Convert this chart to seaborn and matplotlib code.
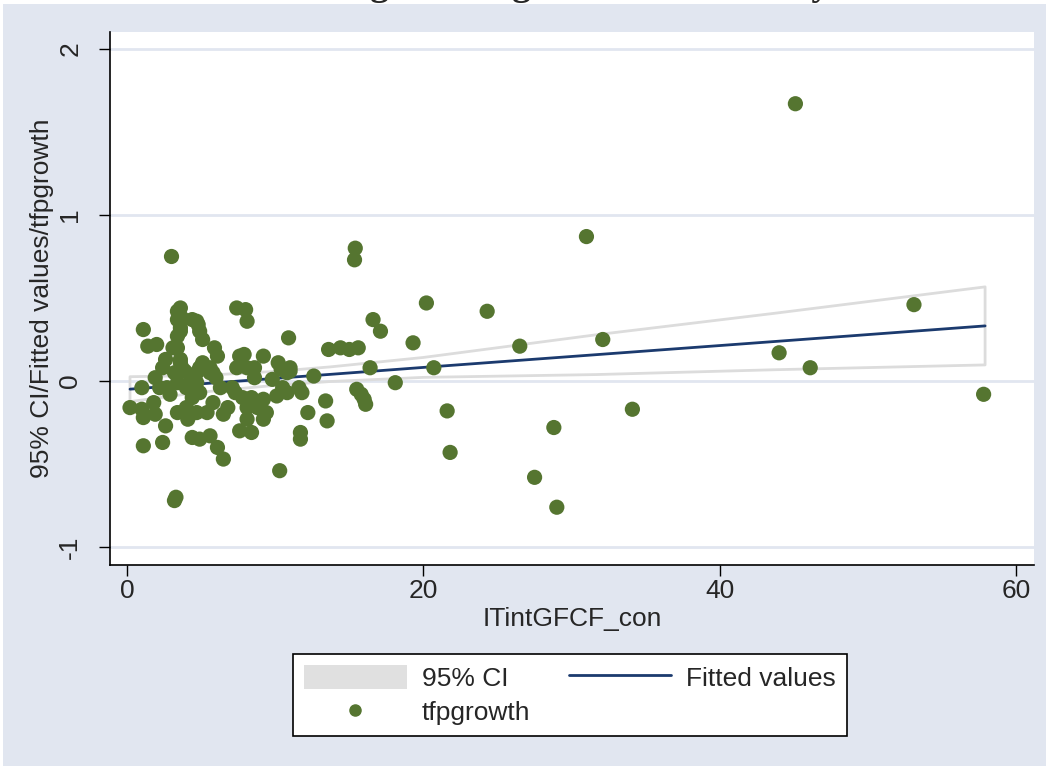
import matplotlib
matplotlib.use('Agg')
import matplotlib.pyplot as plt
import seaborn as sns
import pandas as pd
from matplotlib.patches import Patch, Rectangle
from matplotlib.lines import Line2D

# scatter points (ITintGFCF_con, tfpgrowth)
it_int = [45.1, 31.0, 15.4, 15.35, 3.0, 20.2, 24.3, 53.1, 16.6, 17.1,
          32.1, 19.3, 26.5, 44.0, 46.1, 20.7, 16.4, 18.1, 15.5, 15.8,
          16.0, 16.1, 21.6, 34.1, 57.8, 28.8, 21.8, 27.5, 29.0, 13.6,
          14.4, 15.0, 15.6, 13.4, 13.5, 12.2, 11.7, 11.7, 12.6, 10.9,
          10.3, 3.6, 3.4, 4.4, 4.7, 3.4, 3.6, 1.1, 4.9, 5.1,
          3.4, 1.4, 2.0, 3.1, 3.4, 5.9, 6.1, 7.4, 8.0, 8.1,
          2.6, 2.4, 3.6, 3.7, 5.1, 4.9, 5.6, 5.8, 7.6, 7.9,
          7.4, 8.1, 8.6, 8.6, 9.2, 10.2, 11.0, 10.8, 9.8, 1.0,
          2.2, 2.7, 3.4, 4.0, 4.7, 4.9, 6.3, 7.1, 7.3, 10.5,
          10.8, 11.6, 11.8, 0.2, 1.0, 1.1, 1.8, 1.9, 2.6, 3.4,
          4.0, 4.1, 4.7, 5.4, 5.8, 6.5, 6.8, 7.8, 8.4, 8.1,
          8.8, 9.2, 9.4, 8.1, 9.2, 7.6, 8.4, 1.1, 2.4, 4.4,
          4.9, 5.6, 6.1, 6.5, 3.2, 3.3, 3.7, 4.8, 3.6, 3.6,
          3.2, 5.6, 4.7, 10.4, 11.0, 4.3, 3.9, 2.9, 4.4, 6.0,
          10.1, 1.9]
tfp_growth = [1.67, 0.87, 0.80, 0.73, 0.75, 0.47, 0.42, 0.46, 0.37, 0.30,
              0.25, 0.23, 0.21, 0.17, 0.08, 0.08, 0.08, -0.01, -0.05, -0.08,
              -0.11, -0.14, -0.18, -0.17, -0.08, -0.28, -0.43, -0.58, -0.76, 0.19,
              0.20, 0.19, 0.20, -0.12, -0.24, -0.19, -0.31, -0.35, 0.03, 0.26,
              -0.54, 0.44, 0.42, 0.37, 0.36, 0.37, 0.32, 0.31, 0.30, 0.25,
              0.27, 0.21, 0.22, 0.20, 0.20, 0.20, 0.15, 0.44, 0.43, 0.36,
              0.13, 0.08, 0.13, 0.08, 0.11, 0.08, 0.08, 0.05, 0.15, 0.16,
              0.08, 0.08, 0.08, 0.02, 0.15, 0.11, 0.08, 0.05, 0.01, -0.04,
              -0.04, -0.04, -0.01, -0.04, -0.01, -0.07, -0.04, -0.04, -0.07, -0.04,
              -0.07, -0.04, -0.07, -0.16, -0.17, -0.22, -0.13, -0.20, -0.27, -0.19,
              -0.16, -0.23, -0.19, -0.19, -0.13, -0.20, -0.16, -0.10, -0.10, -0.16,
              -0.16, -0.11, -0.19, -0.23, -0.23, -0.30, -0.31, -0.39, -0.37, -0.34,
              -0.35, -0.33, -0.40, -0.47, -0.72, -0.70, 0.38, 0.34, 0.30, 0.11,
              0.05, 0.05, 0.05, 0.07, 0.06, 0.02, 0.06, -0.08, -0.10, 0.02,
              -0.09, 0.02]

# fitted line and 95% CI band
fit_x = [0.2, 5, 10, 13.7, 20, 31.7, 43.7, 57.9]
fit_y = [-0.049, -0.017, 0.016, 0.040, 0.082, 0.159, 0.238, 0.332]
ci_low = [-0.124, -0.067, -0.026, -0.003, 0.022, 0.039, 0.068, 0.097]
ci_high = [0.026, 0.033, 0.058, 0.085, 0.142, 0.279, 0.408, 0.567]

x_ticks = [0, 20, 40, 60]
y_ticks = [-1, 0, 1, 2]

W, H = 1051, 770
bg = '#E1E6F0'
green = '#557530'
navy = '#1B3A6E'

sns.set_theme(style='white')
plt.rcParams['font.family'] = ['Liberation Sans', 'DejaVu Sans']

fig = plt.figure(figsize=(W / 100, H / 100), dpi=100)
fig.patch.set_facecolor('white')
fig.patches.append(Rectangle((3 / W, 4 / H), 1043 / W, 762 / H, transform=fig.transFigure,
                             facecolor=bg, edgecolor='none', zorder=-10))

ax = fig.add_axes([110 / W, 1 - 565 / H, 924 / W, 533 / H])
ax.set_facecolor('white')

# CI band (outline only, as in the reference)
ax.fill_between(fit_x, ci_low, ci_high, facecolor='none', edgecolor='#DCDCDC', linewidth=2, zorder=2)
sns.lineplot(x=fit_x, y=fit_y, color=navy, lw=2, ax=ax, zorder=3)

df = pd.DataFrame({'ITintGFCF_con': it_int, 'tfpgrowth': tfp_growth})
sns.scatterplot(data=df, x='ITintGFCF_con', y='tfpgrowth', color=green, s=120,
                edgecolor='none', linewidth=0, ax=ax, zorder=4)

ax.set_xlim(-1.15, 61.2)
ax.set_ylim(-1.108, 2.102)
ax.set_xticks(x_ticks)
ax.set_yticks(y_ticks)
ax.set_yticklabels([str(v) for v in y_ticks], rotation=90, va='center')
ax.yaxis.grid(True, color=bg, lw=2)
ax.xaxis.grid(False)
ax.set_axisbelow(True)

for s in ['top', 'right']:
    ax.spines[s].set_visible(False)
for s in ['left', 'bottom']:
    ax.spines[s].set_color('black')
    ax.spines[s].set_linewidth(1.2)

ax.tick_params(axis='x', bottom=True, direction='out', length=8, width=1, color='black',
               labelsize=19, pad=2)
ax.tick_params(axis='y', left=True, direction='out', length=8, width=1, color='black',
               labelsize=19, pad=12)

ax.set_xlabel('ITintGFCF_con', fontsize=19, labelpad=3)
ax.set_ylabel('95% CI/Fitted values/tfpgrowth', fontsize=19, labelpad=3)

# title is cut off at the top edge in the reference; only descenders show
fig.text(292 / W, 1 + 5 / H, 'TFP growth against ICT intensity', ha='left', va='baseline',
         fontsize=27, fontweight='bold', family=['Liberation Serif', 'DejaVu Serif'])

handles = [
    Patch(facecolor='#E0E0E0', edgecolor='none', label='95% CI'),
    Line2D([], [], marker='o', ls='none', color=green, markersize=8, label='tfpgrowth'),
    Line2D([], [], color=navy, lw=2, label='Fitted values'),
]
leg = fig.legend(handles=handles, ncol=2, loc='center', bbox_to_anchor=(570 / W, 1 - 695 / H),
                 frameon=True, fancybox=False, edgecolor='black', framealpha=1, facecolor='white',
                 fontsize=19, handlelength=3.9, handleheight=1.05, handletextpad=0.57,
                 columnspacing=1.45, labelspacing=0.3, borderpad=0.4)
leg.get_frame().set_linewidth(1.2)

fig.savefig('out.png', dpi=100)
plt.close(fig)
